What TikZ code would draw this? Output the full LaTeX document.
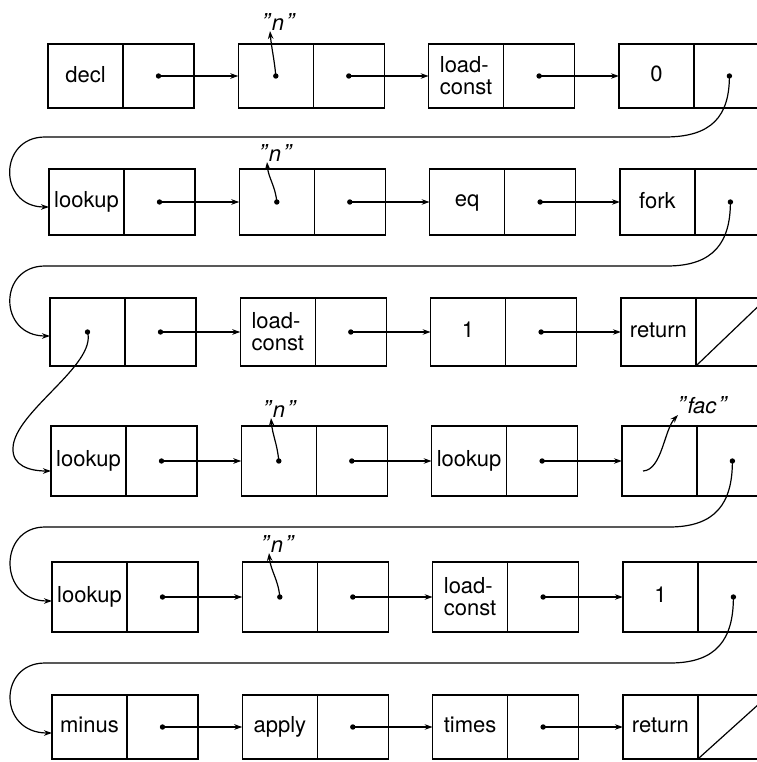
\documentclass[tikz,border=0pt]{standalone}
\usepackage{fontspec}
\setmainfont{TeX Gyre Heros}
\usetikzlibrary{arrows.meta}
\tikzset{
  x=1pt, y=-1pt,
  cell/.style={draw, line width=1.5pt, inner sep=0pt, outer sep=0pt, anchor=north west,
    font=\fontsize{22}{22}\selectfont, align=left},
  cellL/.style={cell, minimum width=75pt},
  cellR/.style={cell, minimum width=71pt},
  link/.style={line width=1.2pt, -{Stealth[length=8pt,width=5.5pt]}},
  ret/.style={link},
  lbl/.style={font=\fontsize{22}{22}\selectfont\itshape, inner sep=0.5pt, anchor=south},
}
\newcommand\cons[5]{%
  \node[cellL, minimum height=#4pt] (#1a) at (#2,#3) {\rule[-4pt]{0pt}{18pt}#5};
  \node[cellR, minimum height=#4pt] (#1b) at (#1a.north east) {};
}
\newcommand\pdot[1]{\fill (#1) circle (2.7pt);}
\newcommand\qq[1]{{\fontsize{24}{24}\selectfont\char34}\kern2pt#1\kern2pt{\fontsize{24}{24}\selectfont\char34}}
\begin{document}
\begin{tikzpicture}
\useasboundingbox (0,0) rectangle (756,762);
% row 1
\cons{A1}{48}{44}{64}{decl}
\cons{A2}{238.3}{44}{64}{}
\cons{A3}{428.6}{44}{64}{load-\\const}
\cons{A4}{618.9}{44}{64}{0}
% row 2
\cons{B1}{49}{169}{66}{lookup}
\cons{B2}{239.3}{169}{66}{}
\cons{B3}{429.6}{169}{66}{eq}
\cons{B4}{619.9}{169}{66}{fork}
% row 3
\cons{C1}{50}{298}{68}{}
\cons{C2}{240.3}{298}{68}{load-\\const}
\cons{C3}{430.6}{298}{68}{1}
\cons{C4}{620.9}{298}{68}{return}
% row 4
\cons{D1}{51}{426}{70}{lookup}
\cons{D2}{241.3}{426}{70}{}
\cons{D3}{431.6}{426}{70}{lookup}
\cons{D4}{621.9}{426}{70}{}
% row 5
\cons{E1}{52}{562}{70}{lookup}
\cons{E2}{242.3}{562}{70}{}
\cons{E3}{432.6}{562}{70}{load-\\const}
\cons{E4}{622.9}{562}{70}{1}
% row 6
\cons{F1}{52}{695}{64}{minus}
\cons{F2}{242.3}{695}{64}{apply}
\cons{F3}{432.6}{695}{64}{times}
\cons{F4}{622.9}{695}{64}{return}
% nil diagonals
\draw[line width=1.2pt] (C4b.south west) -- (C4b.north east);
\draw[line width=1.2pt] (F4b.south west) -- (F4b.north east);
% horizontal links
\foreach \r in {A,B,C,D,E,F}{
  \foreach \i/\j in {1/2,2/3,3/4}{
    \pdot{\r\i b.center}
    \draw[link] (\r\i b.center) -- (\r\j a.west);
  }
}
% end-of-row dots
\foreach \n in {A4b,B4b,D4b,E4b,A2a,B2a,D2a,E2a,C1a}{\pdot{\n.center}}
% "n" labels
\node[lbl] (nA) at (278,31) {\qq{n}};
\node[lbl] (nB) at (275,162) {\qq{n}};
\node[lbl] (nD) at (279,418) {\qq{n}};
\node[lbl] (nE) at (277,553) {\qq{n}};
\draw[link] (A2a.center) to[out=95,in=-85] ([xshift=-8pt]nA.south);
\draw[link] (B2a.center) to[out=95,in=-85] ([xshift=-8pt]nB.south);
\draw[link] (D2a.center) to[out=95,in=-85] ([xshift=-8pt]nD.south);
\draw[link] (E2a.center) to[out=95,in=-85] ([xshift=-8pt]nE.south);
% "fac"
\node[lbl] (fac) at (702,415) {\qq{fac}};
\coordinate (f0) at (643,471);
\draw[link] (f0) .. controls (662,470) and (664,430) .. ([xshift=-24pt]fac.south);
% return curves
\coordinate (e2) at ([yshift=-5pt]B1a.west);
\coordinate (e3) at ([yshift=-4pt]C1a.west);
\coordinate (e4) at ([yshift=-10pt]D1a.west);
\coordinate (e5) at ([yshift=-4pt]E1a.west);
\coordinate (e6) at ([yshift=-6pt]F1a.west);
\draw[ret] (A4b.center) .. controls +(0,40) and (712,137) .. (665,137) -- (45,137)
  .. controls (-2,137) and (-2,207) .. (e2);
\draw[ret] (B4b.center) .. controls +(0,40) and (714,266) .. (667,266) -- (45,266)
  .. controls (-2,266) and (-2,336) .. (e3);
\draw[ret] (C1a.center) .. controls (97,365) and (14,412) .. (13,448)
  .. controls (12,466) and (30,471) .. (e4);
\draw[ret] (D4b.center) .. controls +(0,42) and (716,527) .. (669,527) -- (45,527)
  .. controls (-2,527) and (-2,601) .. (e5);
\draw[ret] (E4b.center) .. controls +(0,42) and (717,663) .. (670,663) -- (45,663)
  .. controls (-2,663) and (-2,733) .. (e6);
\end{tikzpicture}
\end{document}
